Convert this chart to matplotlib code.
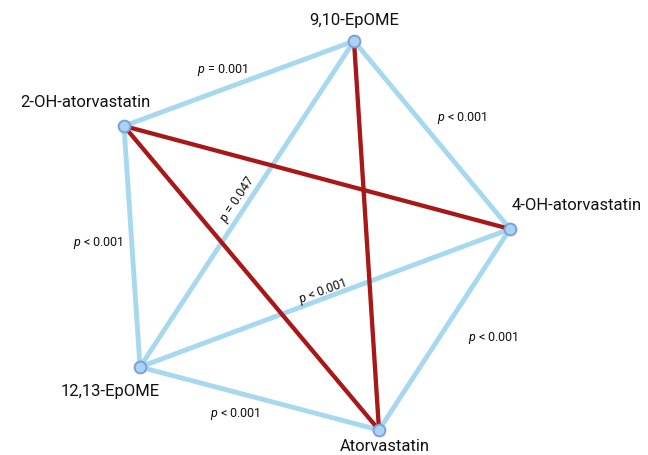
import matplotlib
matplotlib.use("Agg")
import matplotlib.pyplot as plt

plt.rcParams['font.family'] = ['Roboto', 'DejaVu Sans']
plt.rcParams['mathtext.fontset'] = 'custom'
plt.rcParams['mathtext.rm'] = 'Roboto'
plt.rcParams['mathtext.it'] = 'Roboto:italic'

# Network nodes (layout positions in pixel-like units)
nodes = ["9,10-EpOME", "2-OH-atorvastatin", "4-OH-atorvastatin", "12,13-EpOME", "Atorvastatin"]
node_x = [354, 124, 510, 140, 379]
node_y = [42, 127, 230, 368, 431]

# Node label placement
label_x = [354, 85, 577, 110, 385]
label_y = [20, 103, 206, 392, 447]

# Edges: (source, target, kind)  kind: "pos" = light blue, "neg" = dark red
edge_src = ["2-OH-atorvastatin", "9,10-EpOME", "9,10-EpOME", "2-OH-atorvastatin",
            "12,13-EpOME", "12,13-EpOME", "4-OH-atorvastatin",
            "2-OH-atorvastatin", "2-OH-atorvastatin", "9,10-EpOME"]
edge_dst = ["9,10-EpOME", "4-OH-atorvastatin", "12,13-EpOME", "12,13-EpOME",
            "4-OH-atorvastatin", "Atorvastatin", "Atorvastatin",
            "4-OH-atorvastatin", "Atorvastatin", "Atorvastatin"]
edge_kind = ["pos"] * 7 + ["neg"] * 3

# p-value annotations
p_text = [r"$p$ = 0.001", r"$p$ < 0.001", r"$p$ = 0.047", r"$p$ < 0.001",
          r"$p$ < 0.001", r"$p$ < 0.001", r"$p$ < 0.001"]
p_x = [222, 462, 238, 98, 323, 235, 493]
p_y = [70, 118, 199, 243, 292, 414, 338]
p_rot = [0, 0, 56.7, 0, 20.5, 0, 0]

colors = {"pos": "#a6d8f0", "neg": "#a81818"}
widths = {"pos": 3.5, "neg": 3.1}

fig = plt.figure(figsize=(6.48, 4.56), dpi=100)
ax = fig.add_axes([0, 0, 1, 1])
ax.set_xlim(0, 648)
ax.set_ylim(456, 0)
ax.axis("off")

idx = {n: i for i, n in enumerate(nodes)}
# draw light blue first, then red on top
for kind in ["pos", "neg"]:
    for s, d, k in zip(edge_src, edge_dst, edge_kind):
        if k != kind:
            continue
        i, j = idx[s], idx[d]
        ax.plot([node_x[i], node_x[j]], [node_y[i], node_y[j]],
                color=colors[k], lw=widths[k], solid_capstyle="butt",
                zorder=1 if k == "pos" else 2)

ax.scatter(node_x, node_y, s=72, facecolor="#a9d3f0", edgecolor="#7f9fd8",
           linewidth=1.4, zorder=3)

for name, lx, ly in zip(nodes, label_x, label_y):
    ax.text(lx, ly, name, ha="center", va="center", fontsize=12, color="#111111")

for t, x, y, r in zip(p_text, p_x, p_y, p_rot):
    ax.text(x, y, t, ha="center", va="center", fontsize=9, rotation=r,
            rotation_mode="anchor", color="#111111")

fig.savefig("out.png", dpi=100)
